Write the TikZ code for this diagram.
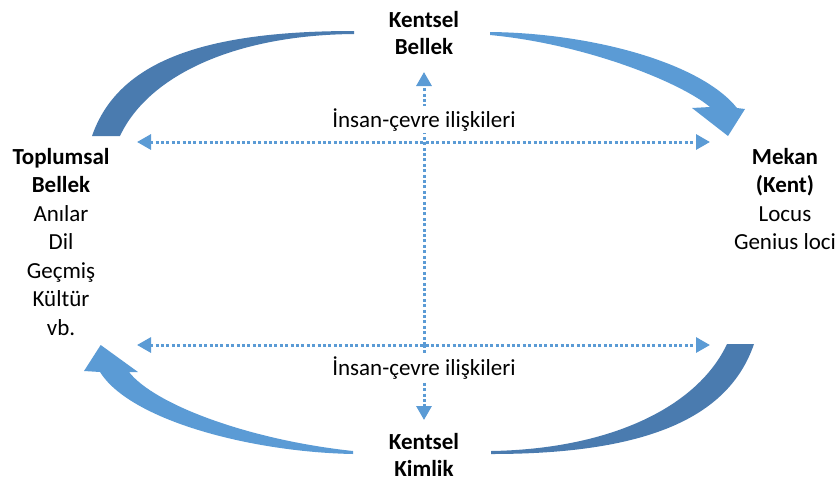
\documentclass[tikz,border=0pt]{standalone}
\usepackage{fontspec}
\setmainfont{Carlito}
\usetikzlibrary{arrows.meta}
\definecolor{lightb}{HTML}{5B9BD5}
\definecolor{darkb}{HTML}{4A7BAF}
\newcommand{\blk}[1]{\begin{tabular}[t]{@{}c@{}}#1\end{tabular}}
\tikzset{
  txt/.style={inner sep=0pt, anchor=base, font=\fontsize{23}{28.5}\selectfont},
  lbl/.style={inner sep=2pt, anchor=base, fill=white, font=\fontsize{23}{28.5}\selectfont},
  dotline/.style={lightb, line width=3pt, dash pattern=on 3pt off 2.4pt},
  tri/.tip={Triangle[length=14pt,width=15pt]},
  darkpiece/.style={fill=darkb, draw=none},
  lightpiece/.style={fill=lightb, draw=none}
}
\begin{document}
\begin{tikzpicture}[x=1pt,y=-1pt]
\useasboundingbox (0,0) rectangle (840,483);
% curved arrows
\fill[darkpiece] (92,136) .. controls (118,61) and (204,31) .. (354,31)
  -- (354,34) .. controls (234,35) and (148,76) .. (120,136) -- cycle;
\fill[lightpiece] (490,32) .. controls (590,33) and (700,62) .. (737,108)
  -- (745,109) -- (728,136) -- (692,108) -- (710,107)
  .. controls (680,82) and (585,44) .. (490,35) -- cycle;
\fill[darkpiece] (754,344) .. controls (728,420) and (642,454) .. (491,454)
  -- (491,451) .. controls (612,449) and (698,406) .. (727,344) -- cycle;
\fill[lightpiece] (353,454) .. controls (250,452) and (130,420) .. (100,372)
  -- (84,371) -- (100.7,345) -- (138,372) -- (129,372)
  .. controls (155,405) and (250,440) .. (353,451) -- cycle;
% connector end points
\coordinate (tl) at (137,142);
\coordinate (tr) at (710,142);
\coordinate (bl) at (137,345);
\coordinate (br) at (710,345);
\coordinate (cb) at (424,345);
\coordinate (up) at (424,72);
\coordinate (down) at (424,420);
% dotted connectors
\draw[dotline, tri-tri] (tl) -- (tr);
\draw[dotline, tri-tri] (bl) -- (br);
\draw[dotline, -tri] (cb) -- (up);
\draw[dotline, -tri] (cb) -- (down);
% labels
\node[lbl] (rel1) at (424,127) {İnsan-çevre ilişkileri};
\node[lbl] (rel2) at (424,375) {İnsan-çevre ilişkileri};
\node[txt] (kb) at (424,27) {\fontsize{23}{27}\selectfont\blk{\textbf{Kentsel}\\\textbf{Bellek}}};
\node[txt] (kk) at (424,449) {\fontsize{23}{27}\selectfont\blk{\textbf{Kentsel}\\\textbf{Kimlik}}};
\node[txt] (tb) at (61,164) {\blk{\textbf{Toplumsal}\\\textbf{Bellek}\\Anılar\\Dil\\Geçmiş\\Kültür\\vb.}};
\node[txt] (mk) at (785,164) {\blk{\textbf{Mekan}\\\textbf{(Kent)}\\Locus\\Genius loci}};
\end{tikzpicture}
\end{document}
